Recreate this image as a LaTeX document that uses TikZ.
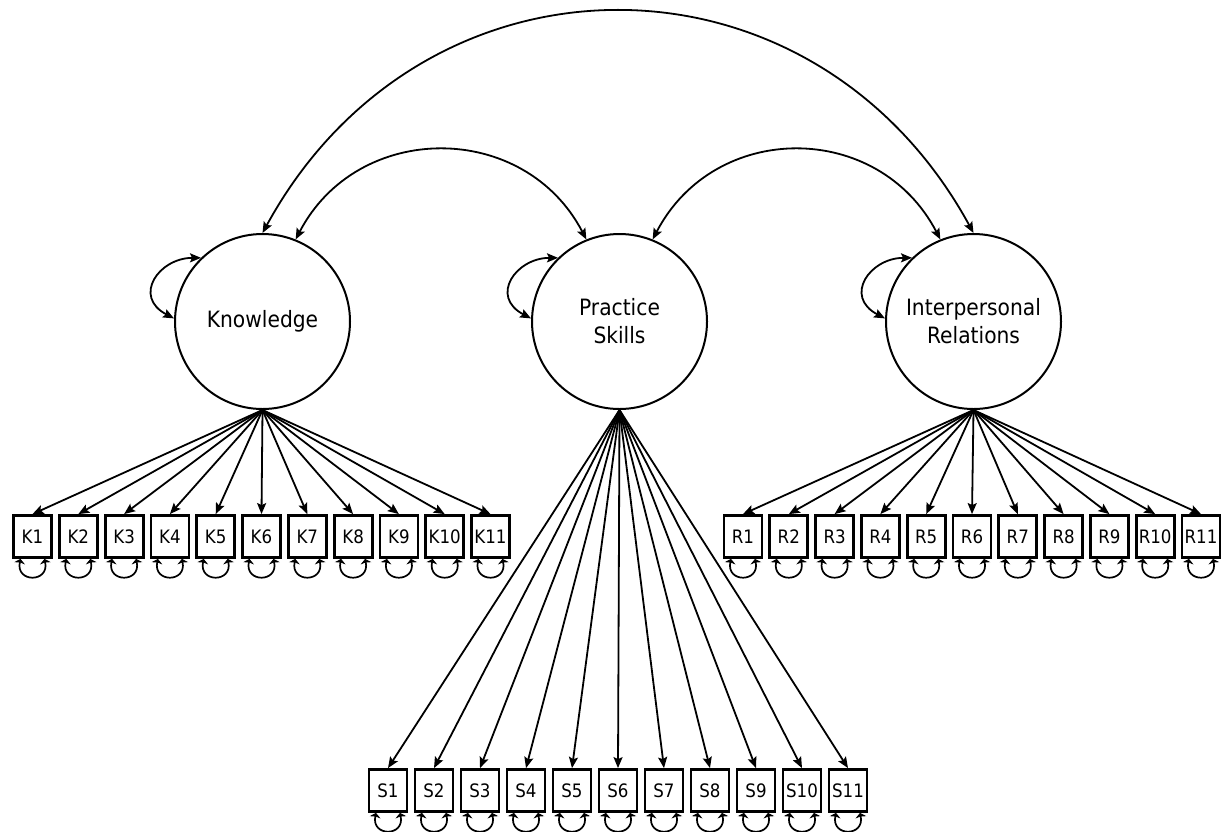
\documentclass[tikz,border=0pt]{standalone}
\usepackage{fontspec}
\setmainfont[FakeStretch=0.9]{DejaVu Sans}
\usetikzlibrary{arrows.meta}

\begin{document}
\begin{tikzpicture}[x=1pt,y=-1pt,
  latent/.style={circle, draw, line width=2pt, minimum size=175pt, inner sep=0pt,
    align=center, font=\fontsize{22.5}{28}\selectfont},
  manifest/.style={rectangle, draw, line width=2.8pt, minimum width=38pt,
    minimum height=42pt, inner sep=0pt, font=\fontsize{18.5}{20}\selectfont},
  load/.style={line width=1.8pt, -{Stealth[length=11pt,width=9pt,inset=2pt]}},
  cov/.style={line width=1.8pt,
    {Stealth[length=11pt,width=9pt,inset=2pt]}-{Stealth[length=11pt,width=9pt,inset=2pt]}},
  evar/.style={line width=1.7pt,
    {Stealth[length=4.5pt,width=11pt,inset=1pt]}-{Stealth[length=4.5pt,width=11pt,inset=1pt]}}
]
\path[use as bounding box, fill=white] (0,0) rectangle (1221,831);

% latent factors
\node[latent] (K) at (262.5,321.5) {Knowledge};
\node[latent] (P) at (619.5,321.5) {Practice\\Skills};
\node[latent] (I) at (973.5,321.5) {Interpersonal\\Relations};

% indicators
\foreach \i in {1,...,11} {
  \node[manifest] (K\i) at ({32.5+45.8*(\i-1)},536.5) {K\i};
  \node[manifest] (R\i) at ({743+45.8*(\i-1)},536.5) {R\i};
  \node[manifest] (S\i) at ({388+46*(\i-1)},790.5) {S\i};
}

% factor loadings and error variances
\foreach \f/\v in {K/K, P/S, I/R} {
  \foreach \i in {1,...,11} {
    \draw[load] (\f.south) -- (\v\i.north);
    \draw[evar] ([xshift=-12pt]\v\i.south) .. controls +(-5,24) and +(5,24) .. ([xshift=12pt]\v\i.south);
  }
}

% factor variances
\foreach \f in {K, P, I} {
  \draw[cov] (\f.134) .. controls +(-42,0) and +(-42,-22) .. (\f.178);
}

% factor covariances
\draw[cov] (K.68) .. controls +(62,-119) and +(-62,-119) .. (P.112);
\draw[cov] (P.68) .. controls +(62,-119) and +(-62,-119) .. (I.112);
\draw[cov] (K.90) .. controls +(161,-295) and +(-161,-295) .. (I.90);
\end{tikzpicture}
\end{document}
